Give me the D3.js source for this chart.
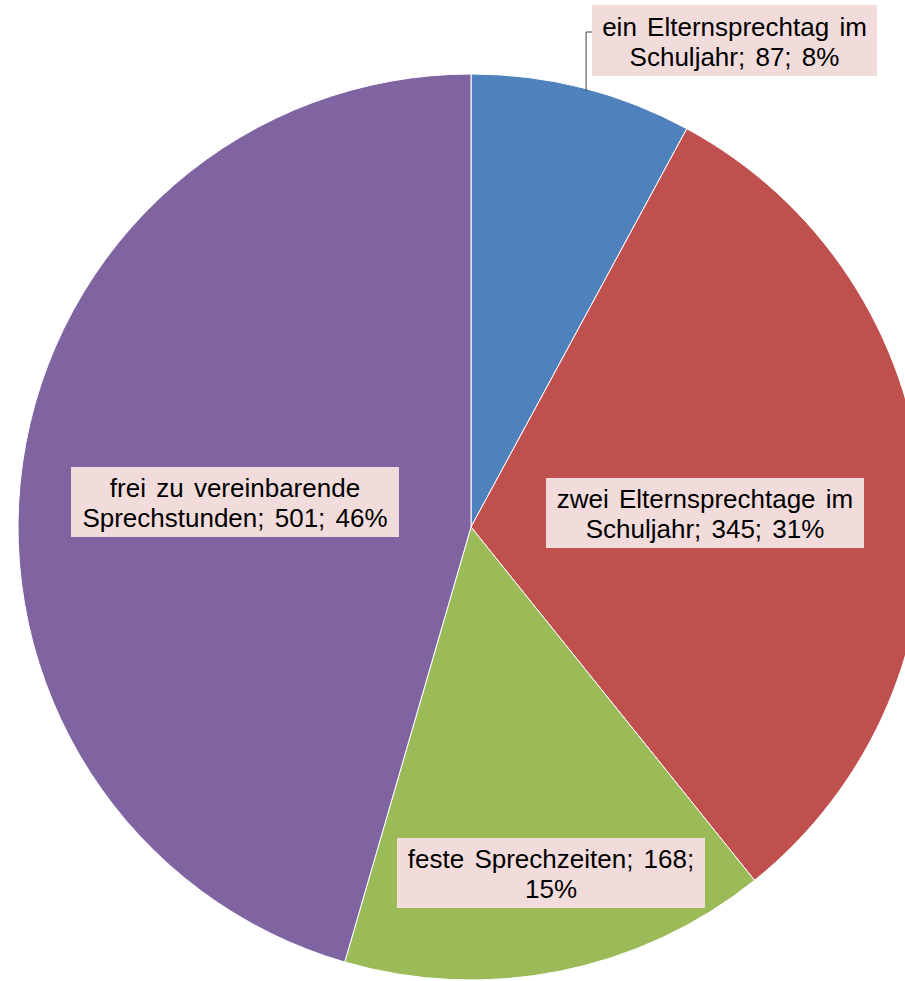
<!DOCTYPE html>
<html>
<head>
<meta charset="utf-8">
<script src="https://cdn.jsdelivr.net/npm/d3@7"></script>
<style>
  html, body { margin: 0; padding: 0; background: #fff; overflow: hidden; }
  svg { display: block; }
</style>
</head>
<body>
<div id="chart"></div>
<script>
const categories = ['ein Elternsprechtag im Schuljahr', 'zwei Elternsprechtage im Schuljahr', 'feste Sprechzeiten', 'frei zu vereinbarende Sprechstunden'];
const counts = [87, 345, 168, 501];
const sliceColors = ['#4F81BD', '#C0504D', '#9BBB59', '#8064A2'];
// how each label wraps
const labelLines = [
  ['ein Elternsprechtag im', 'Schuljahr; 87; 8%'],
  ['zwei Elternsprechtage im', 'Schuljahr; 345; 31%'],
  ['feste Sprechzeiten; 168;', '15%'],
  ['frei zu vereinbarende', 'Sprechstunden; 501; 46%']
];
// label box placement (layout, not data)
const labelBoxes = [
  { x: 592, y: 5, w: 285, h: 71 },
  { x: 546, y: 478, w: 318, h: 70 },
  { x: 397, y: 838, w: 308, h: 70 },
  { x: 71, y: 467, w: 328, h: 70 }
];

const width = 905, height = 981;
const cx = 471, cy = 527, radius = 453;

const svg = d3.select('#chart').append('svg').attr('width', width).attr('height', height);
const data = categories.map((c, i) => ({ name: c, value: counts[i], color: sliceColors[i], lines: labelLines[i], box: labelBoxes[i] }));

const pie = d3.pie().value((d) => d.value).sort(null);
const arc = d3.arc().innerRadius(0).outerRadius(radius);
const arcs = pie(data);

const g = svg.append('g').attr('transform', `translate(${cx},${cy})`);
g.selectAll('path').data(arcs).join('path')
  .attr('d', arc).attr('fill', (d) => d.data.color)
  .attr('stroke', '#fff').attr('stroke-width', 1);

// leader line for the small slice
const first = arcs[0];
const edgeAngle = first.startAngle + (first.endAngle - first.startAngle) * 0.52;
const ex = cx + radius * Math.sin(edgeAngle) * 0.995;
const ey = cy - radius * Math.cos(edgeAngle) * 0.995;
const b0 = labelBoxes[0];
svg.append('path')
  .attr('d', `M${ex},${ey} L${ex},${b0.y + 27} L${b0.x},${b0.y + 27}`)
  .attr('fill', 'none').attr('stroke', '#404040').attr('stroke-width', 1);

const lab = svg.append('g').selectAll('g').data(arcs).join('g');
lab.append('rect')
  .attr('x', (d) => d.data.box.x).attr('y', (d) => d.data.box.y)
  .attr('width', (d) => d.data.box.w).attr('height', (d) => d.data.box.h)
  .attr('fill', '#F2DCDB');
lab.each(function (d) {
  const b = d.data.box;
  const t = d3.select(this).append('text')
    .attr('text-anchor', 'middle')
    .attr('font-family', '"Liberation Sans", Arial, sans-serif')
    .attr('font-size', 26).attr('fill', '#000')
    .attr('word-spacing', 3);
  const n = d.data.lines.length;
  d.data.lines.forEach((line, i) => {
    t.append('tspan')
      .attr('x', b.x + b.w / 2)
      .attr('y', b.y + b.h / 2 + (i - (n - 1) / 2) * 30 + 10)
      .text(line);
  });
});
</script>
</body>
</html>
